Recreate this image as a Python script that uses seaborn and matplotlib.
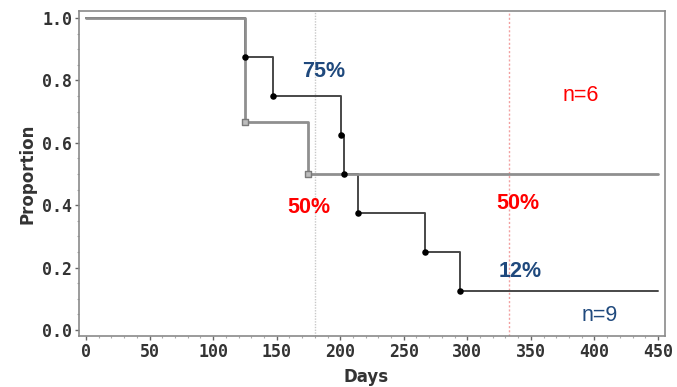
import matplotlib
matplotlib.use("Agg")
import matplotlib.pyplot as plt
import seaborn as sns
import pandas as pd
from matplotlib.ticker import MultipleLocator, FormatStrFormatter

# ---- data ----
days_a = [0, 125, 147, 201, 203, 214, 267, 294, 450]
prop_a = [1.0, 0.875, 0.75, 0.625, 0.5, 0.375, 0.25, 0.125, 0.125]
event_days_a = [125, 147, 201, 203, 214, 267, 294]
event_prop_a = [0.875, 0.75, 0.625, 0.5, 0.375, 0.25, 0.125]

days_b = [0, 125, 175, 450]
prop_b = [1.0, 0.667, 0.5, 0.5]
event_days_b = [125, 175]
event_prop_b = [0.667, 0.5]

median_days = [180, 333]

labels = ["75%", "50%", "50%", "12%", "n=6", "n=9"]
label_x = [187, 175, 339.5, 341.5, 389, 404]
label_y = [0.830, 0.394, 0.404, 0.186, 0.753, 0.045]

NAVY = "#1F497D"
RED = "#FF0000"
label_colors = [NAVY, RED, RED, NAVY, RED, NAVY]
label_weights = ["bold", "bold", "bold", "bold", "normal", "normal"]

sns.set_style("white")
plt.rcParams["font.family"] = ["DejaVu Sans"]

df_a = pd.DataFrame({"Days": days_a, "Proportion": prop_a})
df_b = pd.DataFrame({"Days": days_b, "Proportion": prop_b})
ev_a = pd.DataFrame({"Days": event_days_a, "Proportion": event_prop_a})
ev_b = pd.DataFrame({"Days": event_days_b, "Proportion": event_prop_b})

fig = plt.figure(figsize=(6.77, 3.87), dpi=100)
ax = fig.add_axes([79 / 677, 1 - 336 / 387, (665 - 79) / 677, (336 - 11) / 387])

# median reference lines
ax.axvline(median_days[0], color="#c8c8c8", lw=1.0, ls=(0, (1, 1)), zorder=1)
ax.axvline(median_days[1], color="#f2a0a0", lw=1.0, ls=(0, (1.5, 1.5)), zorder=1)

sns.lineplot(data=df_a, x="Days", y="Proportion", drawstyle="steps-post",
             estimator=None, color="#474747", lw=1.4, ax=ax, zorder=3)
sns.lineplot(data=df_b, x="Days", y="Proportion", drawstyle="steps-post",
             estimator=None, color="#8f8f8f", lw=2.0, ax=ax, zorder=4)
sns.scatterplot(data=ev_a, x="Days", y="Proportion", color="black", s=22,
                edgecolor="black", linewidth=0, ax=ax, zorder=5)
sns.scatterplot(data=ev_b, x="Days", y="Proportion", marker="s", s=24,
                color="#bdbdbd", edgecolor="#7a7a7a", linewidth=1.0, ax=ax, zorder=5)

for t, x, y, c, w in zip(labels, label_x, label_y, label_colors, label_weights):
    ax.text(x, y, t, color=c, fontsize=15.5, fontweight=w, ha="center", va="center",
            family=["Liberation Sans", "DejaVu Sans"], zorder=6)

ax.set_xlim(-5.5, 455.5)
ax.set_ylim(-0.0192, 1.0224)
ax.xaxis.set_major_locator(MultipleLocator(50))
ax.xaxis.set_minor_locator(MultipleLocator(10))
ax.yaxis.set_major_locator(MultipleLocator(0.2))
ax.yaxis.set_minor_locator(MultipleLocator(0.05))
ax.yaxis.set_major_formatter(FormatStrFormatter("%.1f"))

ax.tick_params(axis="both", which="major", direction="out", length=3, width=1,
               color="#666666", labelsize=12, labelcolor="#333333", pad=2)
ax.tick_params(axis="both", which="minor", direction="out", length=1.5, width=0.8,
               color="#aaaaaa")
ax.tick_params(axis="x", which="both", bottom=True)
ax.tick_params(axis="y", which="both", left=True)
for lab in ax.get_xticklabels() + ax.get_yticklabels():
    lab.set_family(["DejaVu Sans Mono"])
    lab.set_fontweight("bold")

for side, sp in ax.spines.items():
    sp.set_visible(True)
    sp.set_color("#8a8a8a")
    sp.set_linewidth(1.2)

ax.set_xlabel("Days", fontsize=12, color="#333333", fontweight="bold", labelpad=0)
ax.set_ylabel("Proportion", fontsize=12, color="#333333", fontweight="bold", labelpad=4)
ax.xaxis.set_label_coords((366 - 79) / (665 - 79), -0.10)

fig.savefig("out.png", dpi=100)
